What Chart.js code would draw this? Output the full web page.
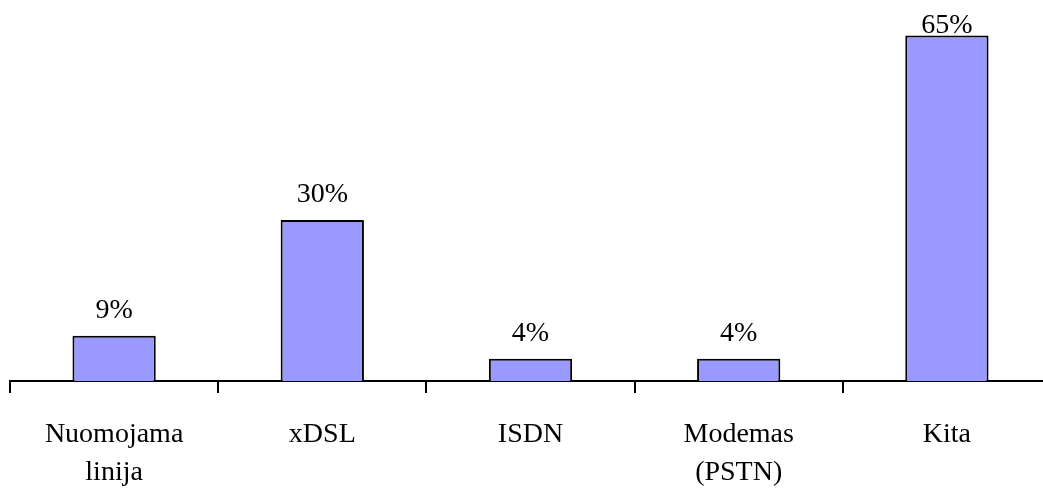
<!DOCTYPE html>
<html>
<head>
<meta charset="utf-8">
<script src="https://cdn.jsdelivr.net/npm/chart.js@4/dist/chart.umd.min.js"></script>
<style>
  html, body { margin: 0; padding: 0; background: #fff; overflow: hidden; }
  #wrap { width: 1043px; height: 488px; overflow: hidden; position: relative; }
  canvas { display: block; }
</style>
</head>
<body>
<div id="wrap"><canvas id="c" width="1052" height="488"></canvas></div>
<script>
// Data
const categories = [["Nuomojama", "linija"], "xDSL", "ISDN", ["Modemas", "(PSTN)"], "Kita"];
const shares = [8.5, 30.3, 4.2, 4.2, 65];

const FONT = "'Liberation Serif', 'Times New Roman', serif";

const valueLabels = {
  id: 'valueLabels',
  afterDatasetsDraw(chart) {
    const ctx = chart.ctx;
    const meta = chart.getDatasetMeta(0);
    ctx.save();
    ctx.font = '28px ' + FONT;
    ctx.fillStyle = '#000';
    ctx.textAlign = 'center';
    ctx.textBaseline = 'alphabetic';
    meta.data.forEach((bar, i) => {
      const v = chart.data.datasets[0].data[i];
      const y = Math.max(bar.y - 17.5, 33);
      ctx.fillText(Math.round(v) + '%', bar.x, y);
    });
    ctx.restore();
  }
};

new Chart(document.getElementById('c'), {
  type: 'bar',
  data: {
    labels: categories,
    datasets: [{
      data: shares,
      backgroundColor: '#9999FF',
      borderColor: '#000000',
      borderWidth: 2,
      borderSkipped: 'start',
      barPercentage: 0.4,
      categoryPercentage: 1.0
    }]
  },
  options: {
    responsive: false,
    animation: false,
    events: [],
    layout: { padding: { left: 10, right: 1, top: 0, bottom: 0 } },
    plugins: { legend: { display: false }, tooltip: { enabled: false }, title: { display: false } },
    scales: {
      x: {
        offset: true,
        grid: {
          offset: true,
          drawOnChartArea: false,
          drawTicks: true,
          tickLength: 12,
          color: '#000',
          lineWidth: 2
        },
        border: { display: true, color: '#000', width: 2 },
        ticks: {
          color: '#000',
          padding: 23,
          maxRotation: 0,
          autoSkip: false,
          font: { family: FONT, size: 28, lineHeight: 1.35 }
        },
        afterFit(scale) { scale.height = 107; }
      },
      y: {
        display: false,
        min: 0,
        max: 71.7
      }
    }
  },
  plugins: [valueLabels]
});
</script>
</body>
</html>
